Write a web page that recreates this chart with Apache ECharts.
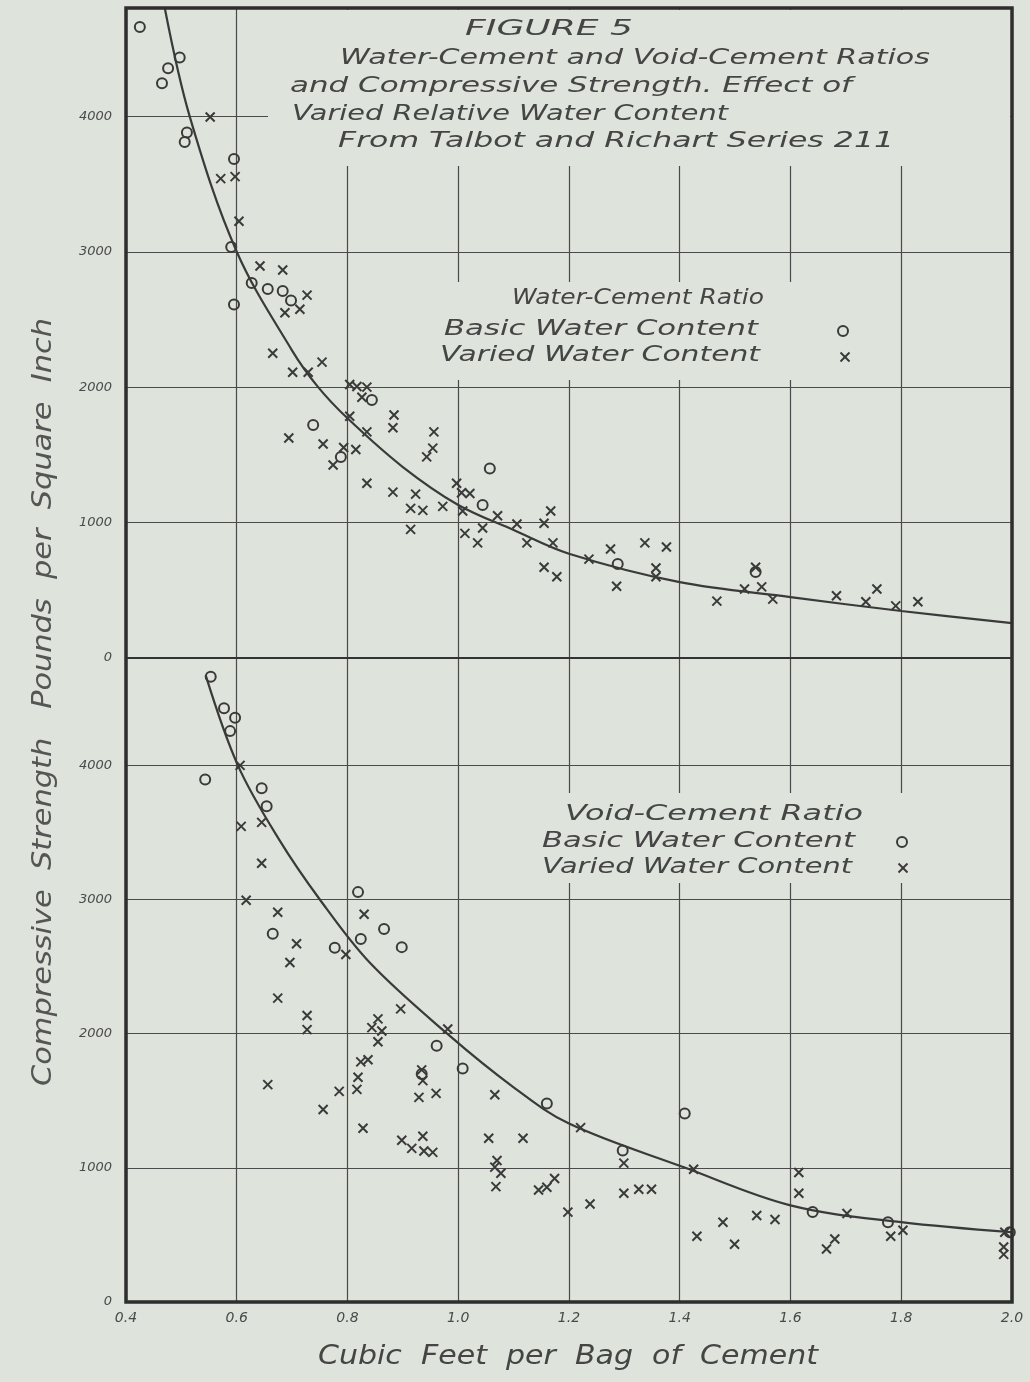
<!DOCTYPE html>
<html>
<head>
<meta charset="utf-8">
<script src="https://cdn.jsdelivr.net/npm/echarts@6/dist/echarts.min.js"></script>
<style>
html,body{margin:0;padding:0;background:#dee3db;}
#c{width:1030px;height:1382px;}
</style>
</head>
<body>
<div id="c"></div>
<script>
// ---------- data ----------
const xTickLabels = ['0.4','0.6','0.8','1.0','1.2','1.4','1.6','1.8','2.0'];
const yTickLabels = ['0','1000','2000','3000','4000'];

// Water-Cement ratio, basic water content (circles)
const wcBasic = [[0.425,4660],[0.497,4435],[0.476,4355],[0.465,4245],[0.510,3880],[0.506,3810],[0.595,3685],[0.590,3035],[0.627,2770],[0.656,2725],[0.683,2710],[0.698,2640],[0.595,2610],[0.844,1905],[0.738,1720],[0.788,1485],[1.057,1400],[1.044,1130],[1.288,695],[1.537,635]];
// Water-Cement ratio, varied water content (crosses)
const wcVaried = [[0.552,3995],[0.571,3540],[0.597,3555],[0.604,3225],[0.642,2895],[0.683,2865],[0.727,2680],[0.687,2550],[0.714,2575],[0.665,2250],[0.701,2110],[0.729,2110],[0.754,2185],[0.804,2020],[0.817,2005],[0.835,2000],[0.826,1925],[0.804,1785],[0.835,1670],[0.884,1795],[0.882,1700],[0.956,1670],[0.954,1550],[0.943,1485],[0.694,1625],[0.756,1580],[0.793,1555],[0.815,1540],[0.774,1425],[0.835,1290],[0.882,1225],[0.923,1210],[0.914,1105],[0.936,1090],[0.972,1120],[0.997,1290],[1.008,1085],[0.914,950],[1.012,920],[1.006,1220],[1.021,1215],[1.035,850],[1.044,960],[1.071,1050],[1.106,990],[1.124,850],[1.155,995],[1.167,1085],[1.171,850],[1.155,670],[1.178,600],[1.236,730],[1.275,805],[1.286,530],[1.337,850],[1.376,820],[1.357,665],[1.357,600],[1.467,420],[1.517,510],[1.537,670],[1.548,525],[1.568,435],[1.683,460],[1.736,415],[1.756,510],[1.790,385],[1.830,415]];
// fitted curve, Water-Cement ratio
const wcCurve = [[0.470,4800],[0.515,4000],[0.600,3000],[0.700,2270],[0.747,2000],[0.800,1770],[0.900,1410],[1.000,1130],[1.100,945],[1.200,770],[1.400,560],[1.600,450],[1.800,347],[2.000,258]];

// Void-Cement ratio, basic water content (circles)
const vcBasic = [[0.553,4660],[0.577,4425],[0.597,4355],[0.588,4255],[0.543,3895],[0.645,3830],[0.654,3695],[0.819,3055],[0.665,2745],[0.777,2640],[0.824,2705],[0.866,2780],[0.898,2645],[0.961,1910],[1.008,1740],[1.160,1480],[1.409,1405],[1.297,1130],[0.934,1700],[1.640,670],[1.776,595],[1.996,520]];
// Void-Cement ratio, varied water content (crosses)
const vcVaried = [[0.606,4000],[0.608,3545],[0.645,3575],[0.645,3270],[0.617,2995],[0.674,2905],[0.708,2670],[0.696,2530],[0.797,2590],[0.830,2890],[0.674,2265],[0.727,2135],[0.727,2030],[0.656,1620],[0.756,1435],[0.785,1570],[0.817,1585],[0.819,1675],[0.824,1790],[0.837,1805],[0.828,1295],[0.844,2045],[0.855,2110],[0.862,2020],[0.855,1940],[0.896,2185],[0.981,2035],[0.934,1730],[0.936,1650],[0.929,1525],[0.960,1555],[0.898,1205],[0.916,1145],[0.936,1235],[0.938,1125],[0.954,1115],[1.066,1545],[1.055,1220],[1.117,1220],[1.070,1055],[1.066,1005],[1.077,960],[1.068,860],[1.145,835],[1.160,855],[1.174,920],[1.198,670],[1.238,730],[1.221,1300],[1.299,1035],[1.299,810],[1.326,840],[1.349,840],[1.425,990],[1.431,490],[1.478,595],[1.499,430],[1.539,645],[1.572,615],[1.615,965],[1.615,810],[1.702,660],[1.665,395],[1.680,470],[1.781,490],[1.803,535],[1.987,520],[1.985,410],[1.985,355]];
// fitted curve, Void-Cement ratio
const vcCurve = [[0.544,4670],[0.602,4000],[0.676,3450],[0.750,3000],[0.840,2530],[0.980,2000],[1.100,1600],[1.200,1330],[1.410,1000],[1.600,720],[1.800,595],[2.000,520]];

// ---------- text ----------
const titleLines = ['FIGURE 5','Water-Cement and Void-Cement Ratios','and Compressive Strength. Effect of','Varied Relative Water Content','From Talbot and Richart Series 211'];
const upperLegend = ['Water-Cement Ratio','Basic Water Content','Varied Water Content'];
const lowerLegend = ['Void-Cement Ratio','Basic Water Content','Varied Water Content'];
const yTitle = 'Compressive  Strength   Pounds  per  Square  Inch';
const xTitle = 'Cubic  Feet  per  Bag  of  Cement';

// ---------- styling / layout ----------
const BG = '#dee3db';
const INK = '#3a3a3a';
const TXT = '#454545';
const FAMILY = 'DejaVu Sans';
const WEIGHT = 200;
const CROSS = 'path://M0,0L10,10M10,0L0,10';
const mctx = document.createElement('canvas').getContext('2d');
function fitted(str, left, cy, width, size, rot, color) {
  mctx.font = 'italic ' + WEIGHT + ' ' + size + 'px "' + FAMILY + '"';
  const w = mctx.measureText(str).width;
  return {
    type: 'text', x: left, y: cy, rotation: rot || 0, scaleX: width / w, z: 20,
    style: { text: str, fill: color || TXT, fontSize: size, fontFamily: FAMILY, fontStyle: 'italic', fontWeight: WEIGHT,
             textAlign: 'left', textVerticalAlign: 'middle' }
  };
}
function maskRect(x, y, w, h) {
  return { type: 'rect', shape: { x: x, y: y, width: w, height: h }, z: 5, style: { fill: BG } };
}
function circleMark(cx, cy) {
  return { type: 'circle', shape: { cx: cx, cy: cy, r: 5 }, z: 20, style: { fill: 'none', stroke: INK, lineWidth: 2 } };
}
function crossMark(cx, cy) {
  const s = 4.5;
  return [
    { type: 'line', shape: { x1: cx - s, y1: cy - s, x2: cx + s, y2: cy + s }, z: 20, style: { stroke: INK, lineWidth: 2 } },
    { type: 'line', shape: { x1: cx + s, y1: cy - s, x2: cx - s, y2: cy + s }, z: 20, style: { stroke: INK, lineWidth: 2 } }
  ];
}

const xLabelFmt = v => { const s = v.toFixed(1); return xTickLabels.includes(s) ? s : ''; };
const yLabelFmt = v => { const s = String(Math.round(v)); return yTickLabels.includes(s) ? s : ''; };

const splitLine = { show: true, lineStyle: { color: '#4a4a4a', width: 1.2 } };
const labelStyle = { color: '#4a4a4a', fontSize: 13, fontFamily: FAMILY, fontStyle: 'italic' };

function xAxis(gi, showLabel) {
  return { type: 'value', gridIndex: gi, min: 0.4, max: 2.0, interval: 0.2,
    axisLine: { show: false }, axisTick: { show: false }, splitLine: splitLine,
    axisLabel: Object.assign({ show: showLabel, margin: 9, formatter: xLabelFmt }, labelStyle, { fontSize: 14 }) };
}
function yAxis(gi) {
  return { type: 'value', gridIndex: gi, min: 0, max: 4800, interval: 1000,
    axisLine: { show: false }, axisTick: { show: false }, splitLine: splitLine,
    axisLabel: Object.assign({ margin: 14, formatter: yLabelFmt, showMaxLabel: false }, labelStyle) };
}
function scatter(data, gi, kind) {
  const isCircle = kind === 'circle';
  return { type: 'scatter', xAxisIndex: gi, yAxisIndex: gi, data: data, z: 3,
    symbol: isCircle ? 'circle' : CROSS, symbolSize: isCircle ? 10 : 9,
    itemStyle: { color: 'rgba(0,0,0,0)', borderColor: INK, borderWidth: 2, opacity: 1 } };
}
function curve(data, gi) {
  return { type: 'line', xAxisIndex: gi, yAxisIndex: gi, data: data, smooth: 0.35,
    showSymbol: false, symbol: 'none', clip: true, z: 2,
    lineStyle: { color: INK, width: 2.2 } };
}

const graphics = [
  // outer drawing frame and panel divider
  { type: 'rect', shape: { x: 126, y: 8, width: 886, height: 1294 }, z: 15, style: { fill: 'none', stroke: '#2e2e2e', lineWidth: 3.5 } },
  { type: 'line', shape: { x1: 126, y1: 658, x2: 1012, y2: 658 }, z: 15, style: { stroke: '#333', lineWidth: 2 } },
  maskRect(268, 10, 742, 156),
  maskRect(432, 282, 438, 98),
  maskRect(532, 793, 384, 90),
  fitted(titleLines[0], 465, 29, 168, 22),
  fitted(titleLines[1], 340, 58, 590, 22),
  fitted(titleLines[2], 290, 86, 562, 22),
  fitted(titleLines[3], 292, 114, 436, 22),
  fitted(titleLines[4], 338, 141, 556, 22),
  fitted(upperLegend[0], 512, 298, 252, 22),
  fitted(upperLegend[1], 444, 329, 314, 22),
  fitted(upperLegend[2], 440, 355, 320, 22),
  circleMark(843, 331),
  ...crossMark(845, 357),
  fitted(lowerLegend[0], 565, 814, 298, 22),
  fitted(lowerLegend[1], 542, 841, 313, 22),
  fitted(lowerLegend[2], 542, 867, 310, 22),
  circleMark(902, 842),
  ...crossMark(903, 868),
  fitted(yTitle, 44, 1086, 768, 26, Math.PI / 2, '#555'),
  fitted(xTitle, 318, 1357, 500, 26)
];

const option = {
  backgroundColor: BG,
  animation: false,
  grid: [
    { left: 126, top: 8, width: 886, height: 650, show: false },
    { left: 126, top: 658, width: 886, height: 644, show: false }
  ],
  xAxis: [xAxis(0, false), xAxis(1, true)],
  yAxis: [yAxis(0), yAxis(1)],
  series: [
    curve(wcCurve, 0), scatter(wcBasic, 0, 'circle'), scatter(wcVaried, 0, 'cross'),
    curve(vcCurve, 1), scatter(vcBasic, 1, 'circle'), scatter(vcVaried, 1, 'cross')
  ],
  graphic: { elements: graphics }
};

const chart = echarts.init(document.getElementById('c'), null, { renderer: 'canvas' });
chart.setOption(option);
</script>
</body>
</html>
